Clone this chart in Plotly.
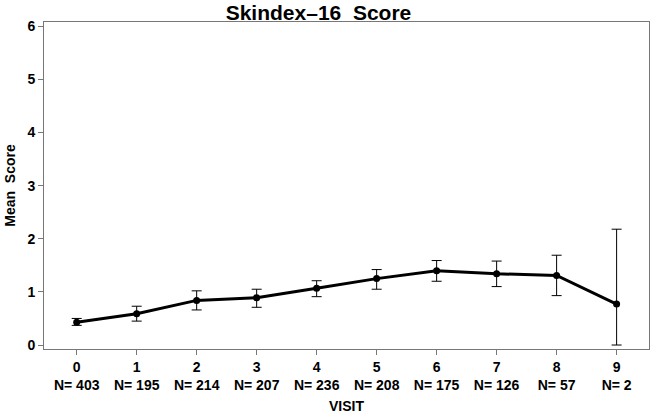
import plotly.graph_objects as go

visits = [0, 1, 2, 3, 4, 5, 6, 7, 8, 9]
n_counts = [403, 195, 214, 207, 236, 208, 175, 126, 57, 2]
mean_score = [0.43, 0.59, 0.84, 0.89, 1.07, 1.25, 1.40, 1.34, 1.31, 0.77]
upper = [0.50, 0.73, 1.02, 1.05, 1.21, 1.42, 1.59, 1.58, 1.69, 2.18]
lower = [0.37, 0.45, 0.66, 0.71, 0.91, 1.05, 1.20, 1.10, 0.93, 0.00]
y_ticks = [0, 1, 2, 3, 4, 5, 6]

err_plus = [u - m for u, m in zip(upper, mean_score)]
err_minus = [m - l for m, l in zip(mean_score, lower)]
tick_text = [f"<b>{v}<br>N= {n}</b>" for v, n in zip(visits, n_counts)]

fig = go.Figure()
fig.add_trace(go.Scatter(
    x=visits, y=mean_score, mode="lines+markers",
    line=dict(color="black", width=3),
    marker=dict(color="black", size=7),
    error_y=dict(type="data", symmetric=False, array=err_plus, arrayminus=err_minus,
                 color="black", thickness=1, width=5),
    showlegend=False,
))

axis_common = dict(showline=True, linecolor="#777", linewidth=1, mirror=True,
                   ticks="outside", tickcolor="#777", ticklen=5, showgrid=False,
                   zeroline=False)

fig.update_layout(
    width=650, height=415,
    margin=dict(l=44, r=1, t=22, b=66),
    paper_bgcolor="white", plot_bgcolor="white",
    font=dict(family="Liberation Sans, Arial, sans-serif", color="black", size=14),
    title=dict(text="<b>Skindex–16  Score</b>", x=0.49, xanchor="center",
               y=0.969, yanchor="middle", font=dict(size=21)),
    xaxis=dict(range=[-0.545, 9.54], tickmode="array", tickvals=visits,
               ticktext=tick_text, title=dict(text="<b>VISIT</b>", standoff=9,
               font=dict(size=14)), **axis_common),
    yaxis=dict(range=[-0.075, 6.08], tickmode="array", tickvals=y_ticks,
               ticktext=[f"<b>{t}</b>" for t in y_ticks],
               title=dict(text="<b>Mean  Score</b>", standoff=8, font=dict(size=14)),
               **axis_common),
)

fig.write_html("out.html", config={"displayModeBar": False},
               post_script="document.body.style.margin='0';document.body.style.overflow='hidden';")
